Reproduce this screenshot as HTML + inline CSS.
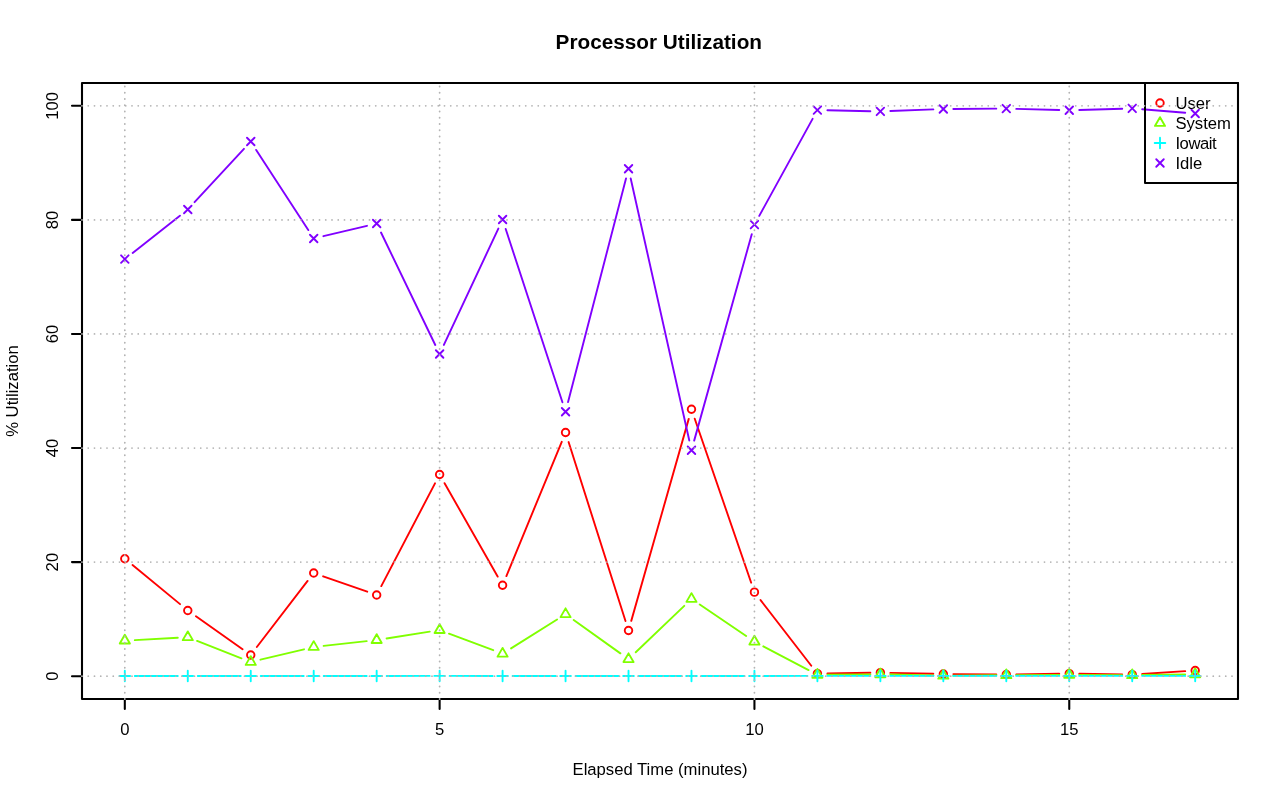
<!DOCTYPE html>
<html lang="en"><head><meta charset="utf-8"><title>Processor Utilization</title>
<style>html,body{margin:0;padding:0;background:#fff;}svg{display:block;}</style></head>
<body>
<svg width="1280" height="801" viewBox="0 0 1280 801">
<rect width="1280" height="801" fill="#fff"/>
<g fill="none" stroke-width="1.9" stroke-linecap="round" stroke-linejoin="round">
<path d="M132.54 565.09L180.05 604.13M195.94 616.25L242.57 649.2M256.83 647.04L307.61 580.94M323.15 576.3L367.22 591.67M381.3 586.1L435 483.36M444.57 483.2L497.65 576.57M506.4 576.02L561.74 441.77M568.59 442.05L625.49 620.97M631.26 620.88L688.74 418.87M694.74 418.71L751.19 582.71M760.56 600.08L811.29 665.71M827.41 673.46L870.37 672.8M890.37 672.87L933.34 673.8M953.33 674.09L996.3 674.4M1016.3 674.34L1059.26 673.75M1079.26 673.77L1122.22 674.43M1142.2 673.94L1185.21 671.13" stroke="#FF0000"/>
<circle cx="124.81" cy="558.75" r="3.75" stroke="#FF0000"/>
<circle cx="187.78" cy="610.48" r="3.75" stroke="#FF0000"/>
<circle cx="250.74" cy="654.97" r="3.75" stroke="#FF0000"/>
<circle cx="313.7" cy="573.01" r="3.75" stroke="#FF0000"/>
<circle cx="376.67" cy="594.96" r="3.75" stroke="#FF0000"/>
<circle cx="439.63" cy="474.5" r="3.75" stroke="#FF0000"/>
<circle cx="502.59" cy="585.27" r="3.75" stroke="#FF0000"/>
<circle cx="565.56" cy="432.52" r="3.75" stroke="#FF0000"/>
<circle cx="628.52" cy="630.5" r="3.75" stroke="#FF0000"/>
<circle cx="691.48" cy="409.25" r="3.75" stroke="#FF0000"/>
<circle cx="754.44" cy="592.17" r="3.75" stroke="#FF0000"/>
<circle cx="817.41" cy="673.62" r="3.75" stroke="#FF0000"/>
<circle cx="880.37" cy="672.65" r="3.75" stroke="#FF0000"/>
<circle cx="943.33" cy="674.02" r="3.75" stroke="#FF0000"/>
<circle cx="1006.3" cy="674.47" r="3.75" stroke="#FF0000"/>
<circle cx="1069.26" cy="673.62" r="3.75" stroke="#FF0000"/>
<circle cx="1132.22" cy="674.59" r="3.75" stroke="#FF0000"/>
<circle cx="1195.19" cy="670.48" r="3.75" stroke="#FF0000"/>
<path d="M134.8 640.11L177.79 637.77M197.08 640.89L241.43 658.32M260.47 659.67L303.98 649.3M323.64 645.88L366.73 641.12M386.54 638.47L429.75 631.66M448.99 633.61L493.23 650.2M511.06 648.4L557.09 619.5M573.69 620L620.38 653.37M635.74 652.28L684.26 605.87M699.76 604.57L746.17 636.06M763.3 646.33L808.55 670.11M827.41 674.69L870.37 674.38M890.37 674.53L933.34 675.5M953.33 675.65L996.3 675.3M1016.3 675.14L1059.26 674.83M1079.26 674.83L1122.22 675.14M1142.22 675.07L1185.19 674.45" stroke="#80FF00"/>
<path d="M124.81 634.82L129.87 643.57L119.76 643.57Z" stroke="#80FF00"/>
<path d="M187.78 631.4L192.83 640.14L182.73 640.14Z" stroke="#80FF00"/>
<path d="M250.74 656.15L255.79 664.9L245.69 664.9Z" stroke="#80FF00"/>
<path d="M313.7 641.15L318.75 649.9L308.65 649.9Z" stroke="#80FF00"/>
<path d="M376.67 634.19L381.72 642.94L371.62 642.94Z" stroke="#80FF00"/>
<path d="M439.63 624.27L444.68 633.02L434.58 633.02Z" stroke="#80FF00"/>
<path d="M502.59 647.88L507.64 656.63L497.54 656.63Z" stroke="#80FF00"/>
<path d="M565.56 608.35L570.61 617.1L560.51 617.1Z" stroke="#80FF00"/>
<path d="M628.52 653.36L633.57 662.1L623.47 662.1Z" stroke="#80FF00"/>
<path d="M691.48 593.13L696.53 601.87L686.43 601.87Z" stroke="#80FF00"/>
<path d="M754.44 635.85L759.49 644.59L749.39 644.59Z" stroke="#80FF00"/>
<path d="M817.41 668.93L822.46 677.68L812.36 677.68Z" stroke="#80FF00"/>
<path d="M880.37 668.47L885.42 677.22L875.32 677.22Z" stroke="#80FF00"/>
<path d="M943.33 669.9L948.38 678.64L938.28 678.64Z" stroke="#80FF00"/>
<path d="M1006.3 669.38L1011.35 678.13L1001.25 678.13Z" stroke="#80FF00"/>
<path d="M1069.26 668.93L1074.31 677.68L1064.21 677.68Z" stroke="#80FF00"/>
<path d="M1132.22 669.38L1137.27 678.13L1127.17 678.13Z" stroke="#80FF00"/>
<path d="M1195.19 668.47L1200.24 677.22L1190.13 677.22Z" stroke="#80FF00"/>
<path d="M134.81 676.01L177.78 676.01M197.78 676.01L240.74 676.01M260.74 676.01L303.7 676.01M323.7 676.01L366.67 676.01M386.67 676L429.63 675.92M449.63 675.92L492.59 676M512.59 676.01L555.56 676.01M575.56 676.01L618.52 676.01M638.52 676.01L681.48 676.01M701.48 676.01L744.44 676.01M764.44 676L807.41 675.92M827.41 675.9L870.37 675.9M890.37 675.9L933.33 675.9M953.33 675.9L996.3 675.9M1016.3 675.9L1059.26 675.9M1079.26 675.9L1122.22 675.9M1142.22 675.9L1185.19 675.9" stroke="#00FFFF"/>
<path d="M119.51 676.01H130.12M124.81 670.71V681.32" stroke="#00FFFF"/>
<path d="M182.47 676.01H193.08M187.78 670.71V681.32" stroke="#00FFFF"/>
<path d="M245.44 676.01H256.04M250.74 670.71V681.32" stroke="#00FFFF"/>
<path d="M308.4 676.01H319.01M313.7 670.71V681.32" stroke="#00FFFF"/>
<path d="M371.36 676.01H381.97M376.67 670.71V681.32" stroke="#00FFFF"/>
<path d="M434.33 675.9H444.93M439.63 670.6V681.2" stroke="#00FFFF"/>
<path d="M497.29 676.01H507.9M502.59 670.71V681.32" stroke="#00FFFF"/>
<path d="M560.25 676.01H570.86M565.56 670.71V681.32" stroke="#00FFFF"/>
<path d="M623.22 676.01H633.82M628.52 670.71V681.32" stroke="#00FFFF"/>
<path d="M686.18 676.01H696.78M691.48 670.71V681.32" stroke="#00FFFF"/>
<path d="M749.14 676.01H759.75M754.44 670.71V681.32" stroke="#00FFFF"/>
<path d="M812.1 675.9H822.71M817.41 670.6V681.2" stroke="#00FFFF"/>
<path d="M875.07 675.9H885.67M880.37 670.6V681.2" stroke="#00FFFF"/>
<path d="M938.03 675.9H948.64M943.33 670.6V681.2" stroke="#00FFFF"/>
<path d="M1000.99 675.9H1011.6M1006.3 670.6V681.2" stroke="#00FFFF"/>
<path d="M1063.96 675.9H1074.56M1069.26 670.6V681.2" stroke="#00FFFF"/>
<path d="M1126.92 675.9H1137.53M1132.22 670.6V681.2" stroke="#00FFFF"/>
<path d="M1189.88 675.9H1200.49M1195.19 670.6V681.2" stroke="#00FFFF"/>
<path d="M132.67 252.89L179.92 215.69M194.57 202.17L243.95 148.86M256.19 149.91L308.26 230.1M323.43 236.17L366.94 225.8M381.01 232.49L435.28 344.98M443.87 344.93L498.35 228.55M505.7 228.99L562.44 402.26M568.06 402.08L626.01 178.46M630.7 178.54L689.3 440.5M694.17 440.63L751.76 234.25M759.26 215.86L812.59 118.86M827.41 110.3L870.37 111.2M890.36 111.02L933.34 109.39M953.33 108.95L996.3 108.67M1016.29 108.87L1059.26 110M1079.25 109.96L1122.23 108.68M1142.19 109.19L1185.22 112.7" stroke="#8000FF"/>
<path d="M121.06 255.32L128.56 262.82M121.06 262.82L128.56 255.32" stroke="#8000FF"/>
<path d="M184.03 205.76L191.53 213.26M184.03 213.26L191.53 205.76" stroke="#8000FF"/>
<path d="M246.99 137.77L254.49 145.27M246.99 145.27L254.49 137.77" stroke="#8000FF"/>
<path d="M309.95 234.73L317.45 242.23M309.95 242.23L317.45 234.73" stroke="#8000FF"/>
<path d="M372.92 219.73L380.42 227.23M372.92 227.23L380.42 219.73" stroke="#8000FF"/>
<path d="M435.88 350.23L443.38 357.73M435.88 357.73L443.38 350.23" stroke="#8000FF"/>
<path d="M498.84 215.74L506.34 223.24M498.84 223.24L506.34 215.74" stroke="#8000FF"/>
<path d="M561.81 408.01L569.31 415.51M561.81 415.51L569.31 408.01" stroke="#8000FF"/>
<path d="M624.77 165.03L632.27 172.53M624.77 172.53L632.27 165.03" stroke="#8000FF"/>
<path d="M687.73 446.51L695.23 454.01M687.73 454.01L695.23 446.51" stroke="#8000FF"/>
<path d="M750.69 220.87L758.19 228.37M750.69 228.37L758.19 220.87" stroke="#8000FF"/>
<path d="M813.66 106.34L821.16 113.84M813.66 113.84L821.16 106.34" stroke="#8000FF"/>
<path d="M876.62 107.65L884.12 115.15M876.62 115.15L884.12 107.65" stroke="#8000FF"/>
<path d="M939.58 105.26L947.08 112.76M939.58 112.76L947.08 105.26" stroke="#8000FF"/>
<path d="M1002.55 104.86L1010.05 112.36M1002.55 112.36L1010.05 104.86" stroke="#8000FF"/>
<path d="M1065.51 106.51L1073.01 114.01M1065.51 114.01L1073.01 106.51" stroke="#8000FF"/>
<path d="M1128.47 104.63L1135.97 112.13M1128.47 112.13L1135.97 104.63" stroke="#8000FF"/>
<path d="M1191.44 109.76L1198.94 117.26M1191.44 117.26L1198.94 109.76" stroke="#8000FF"/>
</g>
<g fill="none" stroke="#000" stroke-width="2.08" stroke-linecap="round" stroke-linejoin="round">
<path d="M124.81 699v10M439.63 699v10M754.44 699v10M1069.26 699v10M82 676.19h-10M82 562.11h-10M82 448.04h-10M82 333.96h-10M82 219.89h-10M82 105.81h-10"/>
<rect x="82" y="83" width="1156" height="616"/>
</g>
<g font-family="'Liberation Sans', Arial, Helvetica, sans-serif" font-size="16.67px" fill="#000" text-anchor="middle">
<text x="124.81" y="735.4">0</text>
<text x="439.63" y="735.4">5</text>
<text x="754.44" y="735.4">10</text>
<text x="1069.26" y="735.4">15</text>
<text transform="translate(58.3 676.19) rotate(-90)">0</text>
<text transform="translate(58.3 562.11) rotate(-90)">20</text>
<text transform="translate(58.3 448.04) rotate(-90)">40</text>
<text transform="translate(58.3 333.96) rotate(-90)">60</text>
<text transform="translate(58.3 219.89) rotate(-90)">80</text>
<text transform="translate(58.3 105.81) rotate(-90)">100</text>
<text x="660" y="775">Elapsed Time (minutes)</text>
<text transform="translate(17.9 391) rotate(-90)">% Utilization</text>
<text x="658.8" y="49" font-size="20.75px" font-weight="bold">Processor Utilization</text>
</g>
<g fill="none" stroke-width="1.9" stroke-linecap="round" stroke-linejoin="round">
<rect x="1145" y="83" width="93" height="100" stroke="#000" stroke-width="2"/>
<circle cx="1160" cy="103" r="3.75" stroke="#FF0000"/>
<path d="M1160 117.17L1165.05 125.92L1154.95 125.92Z" stroke="#80FF00"/>
<path d="M1154.7 143H1165.3M1160 137.7V148.3" stroke="#00FFFF"/>
<path d="M1156.25 159.25L1163.75 166.75M1156.25 166.75L1163.75 159.25" stroke="#8000FF"/>
</g>
<g font-family="'Liberation Sans', Arial, Helvetica, sans-serif" font-size="16.67px" fill="#000">
<text x="1175.4" y="109">User</text>
<text x="1175.4" y="129">System</text>
<text x="1175.4" y="149" textLength="41.3" lengthAdjust="spacing">Iowait</text>
<text x="1175.4" y="169">Idle</text>
</g>
<g fill="none" stroke="#b4b4b4" stroke-width="1.8" stroke-linecap="round" stroke-dasharray="0 6.25">
<path d="M124.81 699V83M439.63 699V83M754.44 699V83M1069.26 699V83M82 676.19H1238M82 562.11H1238M82 448.04H1238M82 333.96H1238M82 219.89H1238M82 105.81H1238"/>
</g>
</svg>
</body></html>
